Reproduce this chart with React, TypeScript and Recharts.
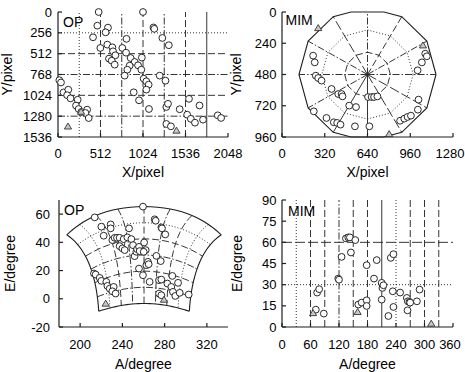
import React from "react";
import {
  ComposedChart,
  Line,
  ReferenceArea,
  ReferenceLine,
  Scatter,
  XAxis,
  YAxis,
} from "recharts";

const FONT = "'Liberation Sans', Arial, Helvetica, sans-serif";
const INK = "#1e1e1e";
const D2R = Math.PI / 180;

const DOT = "1 2";
const DASH = "7 3";
const DASHDOT = "7 2 1.5 2";
const LONGDASH = "10 3";
const SOLID = undefined;

// OP camera, image coordinates (pixel)
const opCircles: [number, number][] = [
  [490, 0], [1024, 0], [474, 168], [602, 192], [574, 250], [422, 311],
  [510, 442], [594, 401], [655, 434], [663, 483], [691, 532], [614, 573],
  [647, 598], [683, 647], [825, 330], [775, 442], [820, 500], [875, 565],
  [924, 614], [863, 659], [835, 709], [803, 782], [964, 655], [1010, 560],
  [1004, 709], [1032, 819], [1064, 852], [1092, 893], [1064, 954], [912, 987],
  [976, 1085], [1096, 1192], [1150, 190], [1160, 207], [1257, 319], [1335, 408],
  [1225, 782], [1295, 844], [1305, 1167], [1325, 1128], [1305, 1376], [1360, 1405],
  [1466, 1195], [1578, 1067], [1556, 1262], [1600, 1313], [1650, 1360], [1705, 1149],
  [1747, 1323], [1924, 1270], [1965, 1302],
  [16, 838], [36, 866], [66, 988], [124, 955], [110, 1022], [151, 1061],
  [237, 1078], [217, 1150], [249, 1192], [281, 1229], [351, 1200], [331, 1241],
  [370, 1303],
];
const opTriangles: [number, number][] = [[120, 1406], [278, 1225], [1427, 1457]];

// MIM camera, image coordinates (pixel)
const mimCircles: [number, number][] = [
  [233, 335], [245, 387], [253, 489], [271, 507], [296, 527], [371, 591],
  [421, 630], [446, 630], [453, 648], [238, 763], [333, 814], [388, 847],
  [413, 852], [438, 865], [503, 719], [554, 730], [546, 878], [654, 878],
  [644, 653], [671, 653], [689, 653], [714, 648], [1072, 320], [1084, 340],
  [1047, 387], [1015, 448], [1022, 673], [1017, 750], [884, 835], [915, 819],
  [940, 806], [965, 796],
];
const mimTriangles: [number, number][] = [[271, 123], [1055, 256], [802, 937]];

// OP sky coordinates (azimuth, elevation)
const opSkyCircles: [number, number][] = [
  [213.8, 57.7], [259.5, 65.3], [220.1, 51.1], [228.9, 52.7], [228.9, 49.9],
  [222.3, 44.7], [230.5, 41.6], [232.7, 43.2], [234.9, 43.2], [237.4, 43.2],
  [239.0, 39.2], [237.4, 37.3], [240.0, 35.7], [242.2, 34.5], [241.2, 42.3],
  [246.3, 49.9], [244.7, 43.5], [248.5, 42.3], [250.1, 38.0], [251.6, 30.2],
  [253.2, 33.3], [253.9, 35.2], [255.8, 36.8], [256.4, 33.8], [260.6, 39.9],
  [262.1, 34.5], [260.2, 33.3], [255.7, 21.4], [259.5, 16.7], [262.7, 23.8],
  [264.2, 26.2], [264.9, 24.5], [265.8, 12.0], [270.6, 56.3], [271.5, 55.3],
  [276.9, 50.6], [277.5, 49.9], [280.6, 45.6], [272.2, 30.4], [276.3, 26.7],
  [274.7, 13.2], [276.9, 13.6], [274.7, 3.7], [276.9, 2.5], [282.6, 10.8],
  [287.3, 16.2], [286.3, 8.4], [287.9, 4.9], [290.1, 2.0], [292.7, 11.3],
  [294.3, 4.2], [302.8, 3.0],
  [213.1, 17.9], [214.7, 17.2], [218.5, 14.8], [220.1, 12.7], [224.8, 12.0],
  [225.8, 9.1], [228.0, 7.2], [231.8, 8.4], [230.5, 5.3], [233.6, 3.7],
];
const opSkyTriangles: [number, number][] = [[224.2, -3.4], [279.4, -0.6]];

// MIM sky coordinates (azimuth, elevation)
const mimSkyCircles: [number, number][] = [
  [74, 24.4], [78.2, 26.8], [71.2, 12.3], [88, 9.5], [118.4, 34.3], [120, 33.5],
  [125.4, 49.7], [134.6, 62.8], [139.5, 63.5], [143, 63.5], [154.3, 61.6],
  [145.1, 52.8], [178.2, 43.8], [160.6, 15.9], [167.7, 17.3], [178.2, 18.9],
  [178.2, 14.9], [193.7, 34.3], [199.4, 47.4], [209.9, 31.3], [211.4, 27.7],
  [213.5, 29.6], [209.9, 19.4], [224, 7.8], [229, 49], [234.6, 51.6],
  [233.2, 25.3], [234.6, 14.2], [248.7, 24.4], [262.8, 20.6], [264.9, 18.2],
  [264.2, 11.8], [268.4, 17.8], [269.8, 17.3], [284, 18.2], [289.6, 26.5],
];
const mimSkyTriangles: [number, number][] = [[65.5, 9.9], [159.2, 10.7], [314.2, 2.4]];

// ticks
const opXTicks = [0, 512, 1024, 1536, 2048];
const opYTicks = [0, 256, 512, 768, 1024, 1280, 1536];
const mimXTicks = [0, 320, 640, 960, 1280];
const mimYTicks = [0, 240, 480, 720, 960];
const opATicks = [200, 240, 280, 320];
const opETicks = [-20, 0, 20, 40, 60];
const mimATicks = [0, 60, 120, 180, 240, 300, 360];
const mimETicks = [0, 15, 30, 45, 60, 75, 90];

// grid of the OP image
const opGridCols = [0, 256, 512, 768, 1024, 1280, 1536, 1792, 2048];
const opGridRows = [0, 256, 512, 768, 1024, 1280, 1536];
const opColDash = [SOLID, DOT, DASH, DASHDOT, DASH, DASHDOT, DASH, SOLID, SOLID];
const opRowDash = [SOLID, DOT, DASH, DASHDOT, DASH, DASHDOT, SOLID];
const opSkyColDash = [SOLID, DOT, DASH, DASHDOT, DASH, DASHDOT, DASH, DOT, SOLID];

// MIM image rings (elevation 60/30/0) and azimuth spokes
const mimRings = [171, 342, 513];
const mimRingDash = [DASH, DOT, SOLID];
const mimSpokeAngles = [0, 30, 60, 90, 120, 150, 180, 210, 240, 270, 300, 330];
const mimSpokeDash = [DASHDOT, DASHDOT, DASH, DASHDOT, LONGDASH, DASHDOT, DASHDOT, DASHDOT, SOLID, SOLID, LONGDASH, LONGDASH];

// MIM sky grid
const mimAGrid = [30, 60, 90, 120, 150, 180, 210, 240, 270, 300, 330];
const mimAGridDash = [DOT, DASH, DASH, DASHDOT, DASH, DASH, SOLID, DOT, DASH, DASH, DASH];
const mimEGrid = [30, 60];
const mimEGridDash = [DOT, LONGDASH];

type Pt = { x: number; y: number };
const toPts = (rows: [number, number][]): Pt[] => rows.map(([x, y]) => ({ x, y }));

// fisheye view of the OP camera, used for the curved grid
function opToSky(x: number, y: number): Pt {
  const px = x - 1024;
  const py = 768 - y;
  const th = Math.hypot(px, py) * 0.0447 * D2R;
  const ph = Math.atan2(py, px);
  const e0 = 31 * D2R;
  const s = Math.sin(th);
  const c = Math.cos(th);
  const right = s * Math.cos(ph);
  const up = s * Math.sin(ph);
  const z = c * Math.sin(e0) + up * Math.cos(e0);
  const h = c * Math.cos(e0) - up * Math.sin(e0);
  return { x: 260.5 + Math.atan2(right, h) / D2R, y: Math.asin(z) / D2R };
}

const along = (n: number, step: number) => Array.from({ length: n }, (_, i) => i * step);

// keep a closed polygon inside the 0..960 rows of the MIM frame
function clipRows(poly: Pt[], lo: number, hi: number): Pt[] {
  const half = (pts: Pt[], inside: (p: Pt) => boolean, edge: number) => {
    const out: Pt[] = [];
    for (let i = 0; i < pts.length; i++) {
      const cur = pts[i];
      const prev = pts[(i + pts.length - 1) % pts.length];
      const cut = () => {
        const t = (edge - prev.y) / (cur.y - prev.y);
        return { x: prev.x + t * (cur.x - prev.x), y: edge };
      };
      if (inside(cur)) {
        if (!inside(prev)) out.push(cut());
        out.push(cur);
      } else if (inside(prev)) out.push(cut());
    }
    return out;
  };
  const a = half(poly, (p) => p.y >= lo, lo);
  const b = half(a, (p) => p.y <= hi, hi);
  return [...b, b[0]];
}

function polygon(r: number): Pt[] {
  const pts = along(12, 30).map((a) => ({
    x: 640 + r * Math.cos(a * D2R),
    y: 480 - r * Math.sin(a * D2R),
  }));
  return clipRows(pts, 0, 960);
}

function spoke(a: number): Pt[] {
  const s = Math.abs(Math.sin(a * D2R));
  const len = s > 1e-6 ? Math.min(513, 480 / s) : 513;
  return [
    { x: 640, y: 480 },
    { x: 640 + len * Math.cos(a * D2R), y: 480 - len * Math.sin(a * D2R) },
  ];
}

const ringShape = (p: any) => (
  <circle cx={p.cx} cy={p.cy} r={3.4} fill="#fff" stroke={INK} strokeWidth={0.95} />
);
const triShape = (p: any) => (
  <polygon
    points={`${p.cx},${p.cy - 3.4} ${p.cx + 3.6},${p.cy + 2.6} ${p.cx - 3.6},${p.cy + 2.6}`}
    fill="#c8c8c8"
    stroke="#333"
    strokeWidth={0.9}
  />
);

const gridLine = (key: string, pts: Pt[], dash?: string, w = 0.9) => (
  <Line
    key={key}
    xAxisId="b"
    yAxisId="l"
    data={pts}
    dataKey="y"
    stroke={INK}
    strokeWidth={w}
    strokeDasharray={dash}
    dot={false}
    activeDot={false}
    isAnimationActive={false}
    legendType="none"
  />
);

const refX = (v: number, dash?: string) => (
  <ReferenceLine key={"x" + v} xAxisId="b" yAxisId="l" x={v} stroke={INK} strokeWidth={0.9} strokeDasharray={dash} />
);
const refY = (v: number, dash?: string) => (
  <ReferenceLine key={"y" + v} xAxisId="b" yAxisId="l" y={v} stroke={INK} strokeWidth={0.9} strokeDasharray={dash} />
);

const marks = (circles: [number, number][], triangles: [number, number][]) => [
  <Scatter key="c" xAxisId="b" yAxisId="l" data={toPts(circles)} dataKey="y" shape={ringShape} isAnimationActive={false} legendType="none" />,
  <Scatter key="t" xAxisId="b" yAxisId="l" data={toPts(triangles)} dataKey="y" shape={triShape} isAnimationActive={false} legendType="none" />,
];

const tickStyle = { fill: "#000", fontSize: 13, fontFamily: FONT };
const titleStyle = { fill: "#000", fontSize: 14, fontFamily: FONT, textAnchor: "middle" as const };
const frame = { stroke: INK, strokeWidth: 1.2 };

// bottom tick text, kept inside the chart's right edge
const bottomTick = (limit: number) => (p: any) => (
  <text
    x={Math.min(p.x, limit)}
    y={p.y}
    dy="0.71em"
    textAnchor="middle"
    fill="#000"
    fontSize={13}
    fontFamily={FONT}
  >
    {p.payload.value}
  </text>
);

function Panel(props: {
  left: number;
  top: number;
  width: number;
  height: number;
  marginRight: number;
  yAxisWidth: number;
  xAxisHeight: number;
  xDomain: [number, number];
  yDomain: [number, number];
  xTicks: number[];
  yTicks: number[];
  reversed?: boolean;
  xLabel: string;
  yLabel: string;
  xLabelOffset: number;
  yLabelOffset: number;
  xTickMargin: number;
  yTickMargin: number;
  tag: string;
  tagOffset: number;
  children: React.ReactNode;
}) {
  return (
    <div style={{ position: "absolute", left: props.left, top: props.top }}>
      <ComposedChart
        width={props.width}
        height={props.height}
        margin={{ top: 12, right: props.marginRight, bottom: 0, left: 0 }}
      >
        <XAxis
          xAxisId="b"
          dataKey="x"
          type="number"
          domain={props.xDomain}
          ticks={props.xTicks}
          interval={0}
          height={props.xAxisHeight}
          tickSize={-4}
          tickMargin={props.xTickMargin}
          tick={bottomTick(props.width - 15)}
          axisLine={frame}
          tickLine={frame}
          label={{ value: props.xLabel, position: "insideBottom", offset: props.xLabelOffset, style: titleStyle }}
        />
        <XAxis
          xAxisId="t"
          orientation="top"
          dataKey="x"
          type="number"
          domain={props.xDomain}
          ticks={props.xTicks}
          interval={0}
          height={0}
          tickSize={-4}
          tick={false}
          axisLine={frame}
          tickLine={frame}
        />
        <YAxis
          yAxisId="l"
          dataKey="y"
          type="number"
          domain={props.yDomain}
          ticks={props.yTicks}
          interval={0}
          reversed={props.reversed}
          width={props.yAxisWidth}
          tickSize={-4}
          tickMargin={props.yTickMargin}
          tick={tickStyle}
          axisLine={frame}
          tickLine={frame}
          label={{ value: props.yLabel, angle: -90, position: "insideLeft", offset: props.yLabelOffset, style: titleStyle }}
        />
        <YAxis
          yAxisId="r"
          orientation="right"
          dataKey="y"
          type="number"
          domain={props.yDomain}
          ticks={props.yTicks}
          interval={0}
          reversed={props.reversed}
          width={0}
          tickSize={-4}
          tick={false}
          axisLine={frame}
          tickLine={frame}
        />
        <ReferenceArea
          xAxisId="b"
          yAxisId="l"
          x1={props.xDomain[0]}
          x2={props.xDomain[1]}
          y1={props.yDomain[0]}
          y2={props.yDomain[1]}
          fill="none"
          stroke="none"
          label={{
            value: props.tag,
            position: "insideTopLeft",
            offset: props.tagOffset,
            style: { fill: "#000", fontSize: 14, fontFamily: FONT },
          }}
        />
        {props.children}
      </ComposedChart>
    </div>
  );
}

export default function App() {
  const opGridPanel1 = [
    ...opGridCols.slice(1, -1).map((v, i) => refX(v, opColDash[i + 1])),
    ...opGridRows.slice(1, -1).map((v, i) => refY(v, opRowDash[i + 1])),
  ];

  const opSkyGrid = [
    ...opGridCols.map((c, i) =>
      gridLine("c" + c, along(25, 64).map((y) => opToSky(c, y)), opSkyColDash[i], i === 0 || i === 8 ? 1.1 : 0.9)
    ),
    ...opGridRows.map((r, i) =>
      gridLine("r" + r, along(33, 64).map((x) => opToSky(x, r)), opRowDash[i], i === 0 || i === 6 ? 1.1 : 0.9)
    ),
  ];

  const mimGrid = [
    ...mimRings.map((r, i) => gridLine("ring" + r, polygon(r), mimRingDash[i], i === 2 ? 1.1 : 0.9)),
    ...mimSpokeAngles.map((a, i) => gridLine("sp" + a, spoke(a), mimSpokeDash[i])),
  ];

  const mimSkyGrid = [
    ...mimAGrid.map((v, i) => refX(v, mimAGridDash[i])),
    ...mimEGrid.map((v, i) => refY(v, mimEGridDash[i])),
  ];

  return (
    <div
      style={{
        position: "relative",
        width: 465,
        height: 372,
        overflow: "hidden",
        background: "#fff",
        fontFamily: FONT,
      }}
    >
      <style>{"body{margin:0}"}</style>
      <Panel
        left={0}
        top={0}
        width={250}
        height={186}
        marginRight={22}
        yAxisWidth={58}
        xAxisHeight={49}
        xDomain={[0, 2048]}
        yDomain={[0, 1536]}
        xTicks={opXTicks}
        yTicks={opYTicks}
        reversed
        xLabel="X/pixel"
        yLabel="Y/pixel"
        xLabelOffset={9}
        yLabelOffset={7.5}
        xTickMargin={16}
        yTickMargin={10}
        tag="OP"
        tagOffset={5}
      >
        {[...opGridPanel1, ...marks(opCircles, opTriangles)]}
      </Panel>
      <Panel
        left={228}
        top={0}
        width={237}
        height={186}
        marginRight={12}
        yAxisWidth={54}
        xAxisHeight={49}
        xDomain={[0, 1280]}
        yDomain={[0, 960]}
        xTicks={mimXTicks}
        yTicks={mimYTicks}
        reversed
        xLabel="X/pixel"
        yLabel="Y/pixel"
        xLabelOffset={9}
        yLabelOffset={8}
        xTickMargin={16}
        yTickMargin={9.5}
        tag="MIM"
        tagOffset={3.5}
      >
        {[...mimGrid, ...marks(mimCircles, mimTriangles)]}
      </Panel>
      <Panel
        left={0}
        top={188}
        width={250}
        height={186}
        marginRight={22}
        yAxisWidth={59}
        xAxisHeight={47}
        xDomain={[180, 340]}
        yDomain={[-20, 70]}
        xTicks={opATicks}
        yTicks={opETicks}
        xLabel="A/degree"
        yLabel="E/degree"
        xLabelOffset={5}
        yLabelOffset={10}
        xTickMargin={16.7}
        yTickMargin={13}
        tag="OP"
        tagOffset={5}
      >
        {[...opSkyGrid, ...marks(opSkyCircles, opSkyTriangles)]}
      </Panel>
      <Panel
        left={228}
        top={188}
        width={237}
        height={186}
        marginRight={12}
        yAxisWidth={54}
        xAxisHeight={47}
        xDomain={[0, 360]}
        yDomain={[0, 90]}
        xTicks={mimATicks}
        yTicks={mimETicks}
        xLabel="A/degree"
        yLabel="E/degree"
        xLabelOffset={5}
        yLabelOffset={9}
        xTickMargin={16.7}
        yTickMargin={9.5}
        tag="MIM"
        tagOffset={6}
      >
        {[...mimSkyGrid, ...marks(mimSkyCircles, mimSkyTriangles)]}
      </Panel>
    </div>
  );
}
